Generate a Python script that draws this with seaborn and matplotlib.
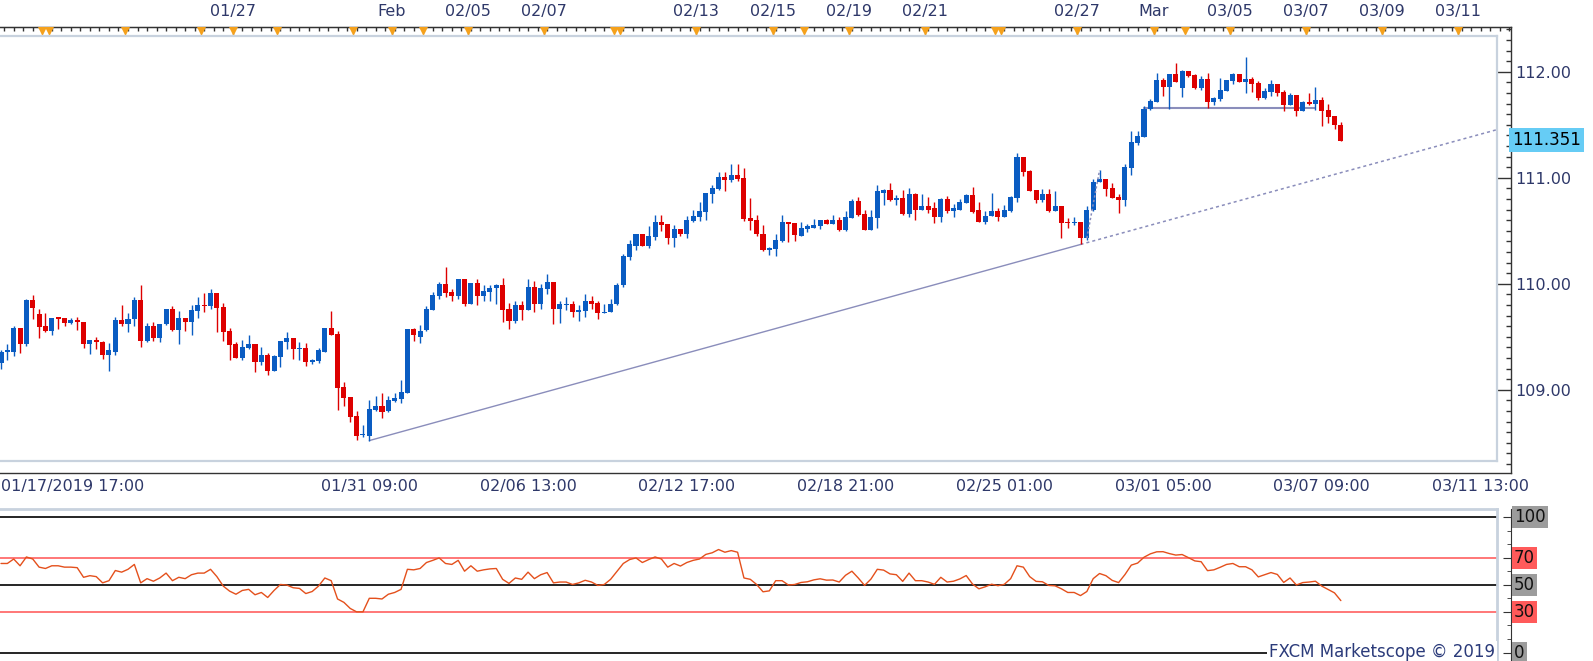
import matplotlib
matplotlib.use('Agg')
import matplotlib.pyplot as plt
import matplotlib.transforms as mtransforms
import numpy as np
import pandas as pd
import seaborn as sns

# ---- data: USD/JPY 4h candles, index 0 = first visible bar ----
opens = [109.25, 109.36, 109.36, 109.58, 109.43, 109.85, 109.71, 109.60, 109.55, 109.68,
         109.68, 109.63, 109.66, 109.64, 109.43, 109.47, 109.45, 109.33, 109.36, 109.66,
         109.62, 109.67, 109.85, 109.46, 109.60, 109.49, 109.62, 109.76, 109.56, 109.68,
         109.64, 109.74, 109.80, 109.79, 109.91, 109.78, 109.55, 109.43, 109.30, 109.39,
         109.43, 109.26, 109.33, 109.18, 109.31, 109.45, 109.49, 109.38, 109.39, 109.26,
         109.27, 109.36, 109.58, 109.53, 109.03, 108.93, 108.75, 108.57, 108.56, 108.81,
         108.85, 108.80, 108.89, 108.91, 108.97, 109.57, 109.50, 109.56, 109.75, 109.88,
         110.00, 109.92, 109.88, 110.04, 109.81, 110.01, 109.88, 109.92, 109.96, 109.99,
         109.76, 109.65, 109.80, 109.75, 109.97, 109.81, 109.95, 110.02, 109.76, 109.80,
         109.81, 109.73, 109.74, 109.84, 109.82, 109.72, 109.73, 109.81, 109.99, 110.25,
         110.36, 110.47, 110.36, 110.44, 110.58, 110.56, 110.43, 110.52, 110.47, 110.59,
         110.63, 110.68, 110.85, 110.89, 111.01, 110.98, 111.03, 111.00, 110.62, 110.60,
         110.47, 110.32, 110.33, 110.40, 110.58, 110.57, 110.45, 110.52, 110.53, 110.54,
         110.60, 110.56, 110.60, 110.51, 110.62, 110.78, 110.66, 110.51, 110.62, 110.86,
         110.88, 110.79, 110.81, 110.66, 110.85, 110.70, 110.73, 110.71, 110.63, 110.80,
         110.69, 110.70, 110.76, 110.84, 110.70, 110.58, 110.64, 110.69, 110.63, 110.69,
         110.81, 111.20, 111.06, 110.88, 110.79, 110.85, 110.69, 110.73, 110.58, 110.57,
         110.58, 110.43, 110.70, 110.96, 110.99, 110.90, 110.82, 110.79, 111.09, 111.33,
         111.38, 111.65, 111.71, 111.92, 111.86, 111.98, 111.85, 112.01, 111.97, 111.85,
         111.93, 111.71, 111.74, 111.82, 111.91, 111.98, 111.90, 111.93, 111.89, 111.75,
         111.81, 111.88, 111.81, 111.69, 111.78, 111.63, 111.71, 111.70, 111.73, 111.64,
         111.58, 111.50]
highs = [109.37, 109.43, 109.60, 109.58, 109.86, 109.89, 109.76, 109.72, 109.68, 109.68,
         109.68, 109.68, 109.69, 109.64, 109.47, 109.50, 109.46, 109.44, 109.69, 109.80,
         109.72, 109.87, 109.99, 109.63, 109.64, 109.62, 109.76, 109.79, 109.74, 109.68,
         109.80, 109.87, 109.91, 109.95, 109.91, 109.82, 109.58, 109.45, 109.47, 109.52,
         109.43, 109.40, 109.35, 109.33, 109.46, 109.54, 109.49, 109.45, 109.44, 109.29,
         109.39, 109.58, 109.74, 109.55, 109.07, 108.93, 108.80, 108.67, 108.90, 108.94,
         108.97, 108.94, 108.97, 109.09, 109.57, 109.58, 109.61, 109.79, 109.92, 110.02,
         110.16, 109.95, 110.04, 110.04, 110.01, 110.04, 109.99, 109.99, 110.00, 110.05,
         109.82, 109.84, 109.84, 110.04, 110.03, 110.00, 110.09, 110.02, 109.84, 109.87,
         109.84, 109.80, 109.90, 109.88, 109.84, 109.81, 109.86, 110.01, 110.28, 110.41,
         110.47, 110.47, 110.54, 110.65, 110.65, 110.56, 110.55, 110.52, 110.64, 110.70,
         110.77, 110.86, 110.93, 111.05, 111.05, 111.13, 111.13, 111.09, 110.81, 110.65,
         110.55, 110.35, 110.47, 110.65, 110.58, 110.57, 110.58, 110.56, 110.61, 110.60,
         110.61, 110.65, 110.63, 110.69, 110.80, 110.82, 110.70, 110.70, 110.93, 110.89,
         110.95, 110.84, 110.88, 110.90, 110.86, 110.85, 110.82, 110.77, 110.81, 110.83,
         110.75, 110.80, 110.85, 110.91, 110.77, 110.69, 110.86, 110.71, 110.74, 110.83,
         111.23, 111.20, 111.07, 110.88, 110.89, 110.89, 110.87, 110.73, 110.62, 110.63,
         110.58, 110.73, 110.99, 111.07, 110.99, 110.95, 110.85, 111.13, 111.44, 111.44,
         111.68, 111.74, 111.99, 111.94, 111.98, 112.08, 112.02, 112.01, 111.98, 111.96,
         111.99, 111.76, 111.94, 111.92, 111.99, 111.98, 112.14, 111.95, 111.91, 111.85,
         111.92, 111.88, 111.83, 111.80, 111.78, 111.72, 111.80, 111.86, 111.76, 111.70,
         111.58, 111.53]
lows = [109.20, 109.28, 109.32, 109.35, 109.41, 109.67, 109.49, 109.54, 109.52, 109.57,
        109.60, 109.62, 109.56, 109.39, 109.34, 109.38, 109.29, 109.18, 109.33, 109.60,
        109.54, 109.60, 109.40, 109.45, 109.46, 109.45, 109.61, 109.55, 109.43, 109.55,
        109.52, 109.68, 109.73, 109.76, 109.54, 109.46, 109.28, 109.30, 109.28, 109.38,
        109.17, 109.23, 109.14, 109.18, 109.21, 109.38, 109.29, 109.28, 109.22, 109.24,
        109.25, 109.36, 109.52, 108.81, 108.85, 108.70, 108.53, 108.55, 108.52, 108.80,
        108.73, 108.79, 108.88, 108.87, 108.97, 109.46, 109.44, 109.55, 109.75, 109.86,
        109.87, 109.84, 109.86, 109.79, 109.81, 109.80, 109.84, 109.84, 109.81, 109.64,
        109.57, 109.63, 109.66, 109.75, 109.73, 109.76, 109.90, 109.62, 109.63, 109.75,
        109.69, 109.65, 109.69, 109.76, 109.67, 109.72, 109.73, 109.80, 109.97, 110.22,
        110.32, 110.36, 110.34, 110.41, 110.50, 110.37, 110.35, 110.45, 110.43, 110.58,
        110.59, 110.60, 110.76, 110.88, 110.87, 110.96, 110.97, 110.59, 110.51, 110.45,
        110.31, 110.27, 110.26, 110.39, 110.39, 110.40, 110.45, 110.49, 110.53, 110.52,
        110.56, 110.56, 110.50, 110.50, 110.62, 110.64, 110.51, 110.51, 110.53, 110.74,
        110.78, 110.74, 110.65, 110.63, 110.60, 110.70, 110.67, 110.57, 110.58, 110.67,
        110.63, 110.70, 110.76, 110.67, 110.58, 110.56, 110.64, 110.59, 110.63, 110.68,
        110.77, 111.02, 110.87, 110.76, 110.77, 110.68, 110.69, 110.43, 110.53, 110.55,
        110.37, 110.41, 110.69, 110.96, 110.83, 110.81, 110.67, 110.73, 111.03, 111.31,
        111.38, 111.64, 111.71, 111.77, 111.65, 111.90, 111.76, 111.95, 111.84, 111.83,
        111.66, 111.69, 111.72, 111.82, 111.88, 111.90, 111.80, 111.81, 111.73, 111.74,
        111.77, 111.77, 111.63, 111.69, 111.58, 111.63, 111.69, 111.64, 111.49, 111.52,
        111.46, 111.35]
closes = [109.36, 109.37, 109.58, 109.43, 109.85, 109.77, 109.59, 109.55, 109.68, 109.67,
          109.63, 109.66, 109.64, 109.43, 109.47, 109.45, 109.33, 109.37, 109.66, 109.62,
          109.67, 109.85, 109.46, 109.60, 109.49, 109.62, 109.76, 109.56, 109.68, 109.64,
          109.75, 109.80, 109.79, 109.91, 109.77, 109.54, 109.42, 109.30, 109.40, 109.43,
          109.26, 109.33, 109.18, 109.32, 109.46, 109.49, 109.38, 109.39, 109.26, 109.28,
          109.37, 109.58, 109.52, 109.02, 108.92, 108.74, 108.56, 108.57, 108.82, 108.85,
          108.79, 108.90, 108.92, 108.98, 109.57, 109.52, 109.55, 109.76, 109.89, 110.00,
          109.91, 109.88, 110.04, 109.81, 110.01, 109.88, 109.93, 109.96, 109.99, 109.75,
          109.65, 109.80, 109.75, 109.97, 109.81, 109.96, 110.02, 109.76, 109.81, 109.81,
          109.73, 109.75, 109.84, 109.81, 109.72, 109.73, 109.81, 109.99, 110.26, 110.37,
          110.47, 110.36, 110.45, 110.58, 110.55, 110.43, 110.52, 110.47, 110.60, 110.64,
          110.69, 110.86, 110.90, 111.01, 110.98, 111.03, 110.99, 110.61, 110.59, 110.47,
          110.32, 110.34, 110.41, 110.58, 110.56, 110.46, 110.53, 110.54, 110.55, 110.60,
          110.56, 110.60, 110.51, 110.63, 110.78, 110.65, 110.51, 110.63, 110.87, 110.88,
          110.79, 110.81, 110.66, 110.85, 110.70, 110.73, 110.70, 110.63, 110.80, 110.69,
          110.71, 110.77, 110.84, 110.68, 110.58, 110.64, 110.69, 110.63, 110.70, 110.82,
          111.20, 111.05, 110.87, 110.79, 110.85, 110.69, 110.73, 110.57, 110.57, 110.58,
          110.43, 110.70, 110.96, 110.99, 110.89, 110.81, 110.79, 111.10, 111.34, 111.39,
          111.65, 111.72, 111.92, 111.86, 111.98, 111.90, 112.01, 111.96, 111.85, 111.93,
          111.71, 111.75, 111.83, 111.92, 111.98, 111.90, 111.93, 111.88, 111.75, 111.82,
          111.88, 111.80, 111.69, 111.78, 111.63, 111.71, 111.70, 111.73, 111.63, 111.57,
          111.50, 111.35]
rsi = [65.7, 65.7, 69, 64, 70.5, 69, 63, 62, 64, 64,
       63, 63, 62.6, 55.5, 56.7, 56, 51.4, 53, 60.5, 59.3,
       61.4, 65, 51.4, 54.5, 52.6, 55, 58.6, 53, 55.5, 54.5,
       57.4, 58.6, 58.6, 61.4, 56, 49, 45.3, 43, 45.8, 46.6,
       42.6, 44.3, 40.6, 45.8, 50.2, 49.8, 47.8, 47.3, 43.5, 45,
       49, 55, 53, 39.5, 37, 32.5, 30, 30, 40, 40,
       39.5, 43, 44.3, 46.6, 61.4, 61, 62, 66.4, 68, 69.8,
       65.7, 65, 68, 60, 64, 60, 61, 61.7, 62, 54,
       51, 55, 54, 59.3, 54.5, 57.4, 59, 51.4, 52, 52,
       50.2, 51.4, 53.3, 52, 49.5, 50.2, 54, 59.8, 65.7, 68.6,
       69.8, 66.4, 68.6, 70.5, 69, 63, 65.7, 63.8, 66.4, 68,
       69, 72.4, 73.6, 76, 74, 75.2, 74, 55, 54, 50.2,
       44.8, 45.5, 53, 53, 49.8, 50.2, 51.7, 52.2, 53.6, 54.4,
       53.4, 53.5, 52, 57, 60, 55, 49.5, 54.2, 61.4, 60.8,
       58, 57.4, 52.5, 58.6, 53, 53, 52, 50.3, 55.5, 52,
       52.6, 54.3, 56.8, 50.5, 47, 48.5, 50.4, 49.3, 50.3, 54.5,
       64, 63, 56, 52.5, 52.2, 49.5, 49.2, 47, 44.3, 44.3,
       42, 45, 54.5, 58.3, 56.7, 53.2, 51.6, 57.5, 64.5, 66,
       70.3, 72.8, 74.3, 74.4, 73, 71.9, 72.3, 70, 67.6, 67,
       60.4, 61, 62.9, 65, 65.7, 63.3, 63.3, 61, 55.8, 57.4,
       59, 57.6, 51.7, 55, 49.8, 51.6, 52, 52.6, 49, 46.5,
       44, 38.3]

last_price = 111.351
price_ticks = [109, 110, 111, 112]

# drawings on the chart (bar index, price)
trend_x = [58, 170]
trend_y = [108.52, 110.37]
steep_x = [171, 173]
steep_y = [110.43, 111.07]
level_x = [180, 207]
level_y = [111.655, 111.655]

# time axes
bottom_pos = [8, 33, 58, 83, 108, 133, 158, 183, 208, 233]
bottom_labels = ['', '', '01/31 09:00', '02/06 13:00', '02/12 17:00', '02/18 21:00',
                 '02/25 01:00', '03/01 05:00', '03/07 09:00', '03/11 13:00']
first_label = '01/17/2019 17:00'
top_pos = [36.5, 61.5, 73.5, 85.5, 109.5, 121.5, 133.5, 145.5, 169.5, 181.5,
           193.5, 205.5, 217.5, 229.5]
top_labels = ['01/27', 'Feb', '02/05', '02/07', '02/13', '02/15', '02/19', '02/21',
              '02/27', 'Mar', '03/05', '03/07', '03/09', '03/11']
event_pos = [6.5, 7.5, 19.5, 31.5, 36.5, 43.5, 55.5, 61.5, 66.5, 73.5, 85.5, 96.5, 97.5,
             109.5, 121.5, 126.5, 133.5, 145.5, 156.5, 157.5, 169.5, 181.5, 186.5,
             193.5, 205.5, 217.5, 229.5]

rsi_levels = [100, 70, 50, 30, 0]
rsi_level_labels = ['100', '70', '50', '30', '0']

# ---- layout helpers (pixel geometry of the 1593x661 picture) ----
W, H = 1593, 661
PX_PER_BAR = 6.35


def bar_at(px):
    return (px - 1) / PX_PER_BAR


def price_at(py):
    return 112 - (py - 71.7) / 106


def rsi_at(py):
    return (652.5 - py) / 1.355


def rect(x0, y0, x1, y1):
    return [x0 / W, 1 - y1 / H, (x1 - x0) / W, (y1 - y0) / H]


BLUE = '#0a5cc2'
RED = '#dd0000'
FRAME = '#c8d2de'
AXC = '#333333'
TXT = '#2e3869'
DRAW = '#8a8dbb'

sns.set_style('white')
plt.rcParams['font.family'] = ['DejaVu Sans']

fig = plt.figure(figsize=(W / 100, H / 100), dpi=100)

# ---------- price panel: outer axes carrying the scales ----------
ax_o = fig.add_axes(rect(0, 27, 1511, 473))
ax_o.set_xlim(bar_at(0), bar_at(1511))
ax_o.set_ylim(price_at(473), price_at(27))
ax_o.patch.set_alpha(0)
ax_o.spines['left'].set_visible(False)
for s in ['top', 'right', 'bottom']:
    ax_o.spines[s].set_color(AXC)
    ax_o.spines[s].set_linewidth(1)
ax_o.yaxis.tick_right()
ax_o.set_yticks(price_ticks, labels=[f'{p:.2f}' for p in price_ticks])
ax_o.set_yticks(np.arange(108.3, 112.45, 0.1), minor=True)
ax_o.tick_params(axis='y', which='major', direction='in', length=10, width=1,
                 color=AXC, labelsize=11.5, labelcolor=TXT, pad=3)
ax_o.tick_params(axis='y', which='minor', direction='in', length=3.5, width=1, color=AXC)
ax_o.set_xticks(bottom_pos, labels=bottom_labels)
ax_o.set_xticks(np.arange(1.75, 238, 25 / 8), minor=True)
ax_o.tick_params(axis='x', which='major', direction='in', length=8.6, width=1,
                 color=AXC, labelsize=11.5, labelcolor=TXT, pad=4)
ax_o.tick_params(axis='x', which='minor', direction='in', length=3, width=1, color=AXC)
fig.text(1 / W, 1 - 486 / H, first_label, ha='left', va='center',
         fontsize=11.5, color=TXT)

top = ax_o.secondary_xaxis('top')
top.set_xticks(top_pos, labels=top_labels)
top.set_xticks(np.arange(0.5, 238, 1.5), minor=True)
top.tick_params(axis='x', which='major', direction='in', length=6.5, width=1,
                color='#888888', labelsize=11.5, labelcolor=TXT, pad=6)
top.tick_params(axis='x', which='minor', direction='in', length=3, width=1, color=AXC)
top.spines['top'].set_color(AXC)

blend = mtransforms.blended_transform_factory(ax_o.transData, ax_o.transAxes)
ax_o.vlines(event_pos, 0.98, 1.0, transform=blend, color='#9a9a9a', lw=0.8, zorder=4)
ax_o.scatter(event_pos, [0.991] * len(event_pos), transform=blend, marker='v', s=42,
             color='#f5a11c', linewidths=0, zorder=5, clip_on=False)

ax_o.text(1 + 1 / 1511, last_price, f'{last_price:.3f}',
          transform=mtransforms.blended_transform_factory(ax_o.transAxes, ax_o.transData),
          ha='left', va='center', fontsize=12, color='#000000',
          bbox=dict(boxstyle='square,pad=0.18', fc='#66ccf5', ec='none'))

# ---------- price panel: candles ----------
ax_p = fig.add_axes(rect(0, 36, 1497, 461))
ax_p.set_xlim(bar_at(0), bar_at(1497))
ax_p.set_ylim(price_at(461), price_at(36))
ax_p.set_facecolor('white')
ax_p.spines['left'].set_visible(False)
for s in ['top', 'right', 'bottom']:
    ax_p.spines[s].set_color(FRAME)
    ax_p.spines[s].set_linewidth(1.6)
ax_p.set_xticks([])
ax_p.set_yticks([])

df = pd.DataFrame({'open': opens, 'high': highs, 'low': lows, 'close': closes})
df['color'] = np.where(df['close'] >= df['open'], BLUE, RED)
body_low = df[['open', 'close']].min(axis=1)
body_h = (df['close'] - df['open']).abs().clip(lower=0.012)

ax_p.vlines(df.index, df['low'], df['high'], colors=df['color'], lw=1.0, zorder=3)
ax_p.bar(df.index, body_h, bottom=body_low, width=0.8, color=df['color'],
         linewidth=0, zorder=4)

slope = (trend_y[1] - trend_y[0]) / (trend_x[1] - trend_x[0])
x_end = bar_at(1497)
sns.lineplot(x=trend_x, y=trend_y, ax=ax_p, color=DRAW, lw=1, zorder=2)
ax_p.plot([trend_x[1], x_end], [trend_y[1], trend_y[1] + slope * (x_end - trend_x[1])],
          color=DRAW, lw=1.1, ls=(0, (2, 2)), zorder=2)
ax_p.plot(steep_x, steep_y, color=DRAW, lw=1.1, ls=(0, (1.5, 1.5)), zorder=5)
ax_p.plot(level_x, level_y, color=DRAW, lw=1.5, zorder=2)

# ---------- RSI panel ----------
ax_ro = fig.add_axes(rect(0, 509, 1511, 661))
ax_ro.set_xlim(bar_at(0), bar_at(1511))
ax_ro.set_ylim(rsi_at(661), rsi_at(509))
ax_ro.patch.set_alpha(0)
for s in ['left', 'top', 'bottom']:
    ax_ro.spines[s].set_visible(False)
ax_ro.spines['right'].set_color(AXC)
ax_ro.set_xticks([])
ax_ro.yaxis.tick_right()
ax_ro.set_yticks(rsi_levels, labels=[''] * len(rsi_levels))
ax_ro.set_yticks(np.arange(0, 101, 10), minor=True)
ax_ro.tick_params(axis='y', which='major', direction='in', length=6, color=AXC)
ax_ro.tick_params(axis='y', which='minor', direction='in', length=3, color=AXC)
rblend = mtransforms.blended_transform_factory(ax_ro.transAxes, ax_ro.transData)
label_bg = ['#9c9c9c', '#ff5a5a', '#9c9c9c', '#ff5a5a', '#9c9c9c']
for lev, lab, bg in zip(rsi_levels, rsi_level_labels, label_bg):
    ax_ro.text(1 + 3 / 1511, lev, lab, transform=rblend, ha='left', va='center',
               fontsize=12, color='#111111', clip_on=False,
               bbox=dict(boxstyle='square,pad=0.12', fc=bg, ec='none'))

ax_r = fig.add_axes(rect(0, 509, 1497, 661))
ax_r.set_xlim(bar_at(0), bar_at(1497))
ax_r.set_ylim(rsi_at(661), rsi_at(509))
ax_r.patch.set_alpha(0)
for s in ['left', 'bottom']:
    ax_r.spines[s].set_visible(False)
for s in ['top', 'right']:
    ax_r.spines[s].set_color(FRAME)
    ax_r.spines[s].set_linewidth(2)
ax_r.set_xticks([])
ax_r.set_yticks([])
for lev in rsi_levels:
    ax_r.axhline(lev, color='#ff6060' if lev in (30, 70) else 'black', lw=1.2, zorder=1)
sns.lineplot(x=np.arange(len(rsi)), y=rsi, ax=ax_r, color='#e4501c', lw=1, zorder=3)
ax_r.set_xlabel('')
ax_r.set_ylabel('')

fig.text(1495 / W, 1 - 652 / H, 'FXCM Marketscope \u00a9 2019', ha='right', va='center',
         fontsize=12, color='#2b3b7a',
         bbox=dict(boxstyle='square,pad=0.1', fc='white', ec='none'))

fig.savefig('out.png', dpi=100)
